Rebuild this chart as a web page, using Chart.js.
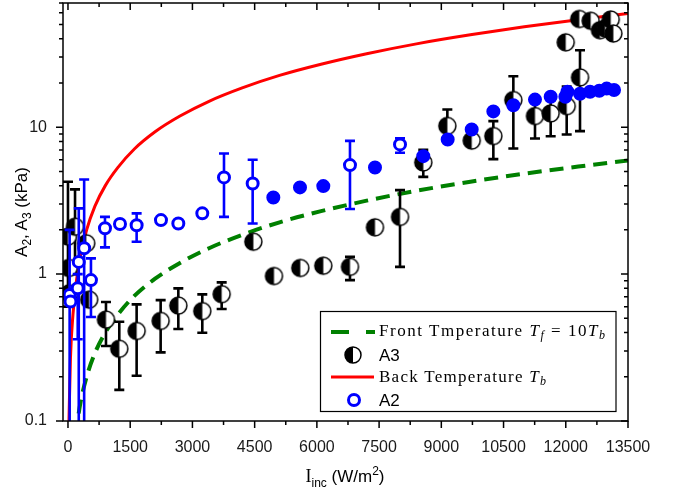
<!DOCTYPE html>
<html>
<head>
<meta charset="utf-8">
<script src="https://cdn.jsdelivr.net/npm/chart.js@4.4.1/dist/chart.umd.min.js"></script>
<style>
body{margin:0;background:#fff;}
#wrap{position:relative;width:681px;height:496px;}
#chart1{position:absolute;left:0;top:0;}
#over{position:absolute;left:0;top:0;}
</style>
</head>
<body>
<div id="wrap">
<canvas id="chart1" width="681" height="496"></canvas>
<svg id="over" width="681" height="496" font-family="Liberation Sans, Arial, sans-serif">
  <!-- axis titles -->
  <text transform="translate(27,212) rotate(-90)" text-anchor="middle" font-size="17">A<tspan font-size="12" dy="4">2</tspan><tspan dy="-4">, A</tspan><tspan font-size="12" dy="4">3</tspan><tspan dy="-4"> (kPa)</tspan></text>
  <text x="345" y="482" text-anchor="middle" font-size="17"><tspan font-family="Liberation Serif, serif" font-size="18">I</tspan><tspan font-size="12" dy="5">inc</tspan><tspan dy="-5"> (W/m</tspan><tspan font-size="12" dy="-7">2</tspan><tspan dy="7">)</tspan></text>
  <!-- legend -->
  <rect x="320.5" y="311.5" width="295.5" height="100" fill="#fff" stroke="#000" stroke-width="1.2"/>
  <line x1="331" y1="332" x2="349" y2="332" stroke="#008000" stroke-width="4"/>
  <line x1="366" y1="332" x2="375" y2="332" stroke="#008000" stroke-width="4"/>
  <text x="379" y="335.5" font-family="Liberation Serif, serif" font-size="17" textLength="226" lengthAdjust="spacing">Front Tmperature <tspan font-style="italic">T</tspan><tspan font-style="italic" font-size="12" dy="3">f</tspan><tspan dy="-3"> = 10</tspan><tspan font-style="italic">T</tspan><tspan font-style="italic" font-size="12" dy="3">b</tspan></text>
  <circle cx="353" cy="355" r="8" fill="#fff" stroke="#000" stroke-width="1.5"/>
  <path d="M353,347 A8,8 0 0,0 353,363 Z" fill="#000"/>
  <text x="379" y="361" font-size="17">A3</text>
  <line x1="331" y1="377" x2="374" y2="377" stroke="#ff0000" stroke-width="3"/>
  <text x="379" y="381.5" font-family="Liberation Serif, serif" font-size="17" textLength="167" lengthAdjust="spacing">Back Temperature <tspan font-style="italic">T</tspan><tspan font-style="italic" font-size="12" dy="3">b</tspan></text>
  <circle cx="354" cy="400" r="5.5" fill="#fff" stroke="#0000ff" stroke-width="3"/>
  <text x="379" y="406" font-size="17">A2</text>
</svg>
</div>
<script>
"use strict"

// axis ranges and ticks
const xMin = -120, xMax = 13500
const yMin = 0.1, yMax = 70
const xTicks = [0, 1500, 3000, 4500, 6000, 7500, 9000, 10500, 12000, 13500]
const xMinorTicks = [750, 2250, 3750, 5250, 6750, 8250, 9750, 11250, 12750]
const yTicks = [0.1, 1, 10]
const yTickLabels = ['0.1', '1', '10']
const yMinorTicks = [0.2, 0.3, 0.4, 0.5, 0.6, 0.7, 0.8, 0.9, 2, 3, 4, 5, 6, 7, 8, 9, 20, 30, 40, 50, 60, 70]

// back temperature (red) and front temperature (green dashed)
const backX = [20, 60, 120, 200, 300, 450, 650, 900, 1200, 1600, 2100, 2700, 3400, 4200, 5100, 6100, 7200, 8400, 9700, 11000, 12300, 13500]
const backY = [0.09, 0.27, 0.53, 0.88, 1.33, 2.0, 2.9, 4.0, 5.3, 7.1, 9.3, 11.9, 15.0, 18.5, 22.5, 26.8, 31.6, 36.9, 42.5, 48.2, 53.9, 59.3]
const frontX = [180, 230, 300, 450, 650, 900, 1200, 1600, 2100, 2700, 3400, 4200, 5100, 6100, 7200, 8400, 9700, 11000, 12300, 13500]
const frontY = [0.08, 0.1, 0.133, 0.2, 0.29, 0.4, 0.53, 0.71, 0.93, 1.19, 1.5, 1.85, 2.25, 2.68, 3.16, 3.69, 4.25, 4.82, 5.39, 5.93]

// A3 (black half discs) with error bars
const a3X = [0, 20, 30, 170, 440, 510, 916, 1237, 1655, 2234, 2660, 3238, 3705, 4468, 4966, 5600, 6155, 6798, 7401, 8004, 8565, 9145, 9732, 10254, 10736, 11258, 11636, 12022, 11998, 12343, 12326, 12600, 12825, 12950, 13083, 13146]
const a3Y = [1.8, 1.1, 0.74, 2.1, 1.62, 0.67, 0.49, 0.31, 0.41, 0.48, 0.61, 0.56, 0.73, 1.66, 0.97, 1.1, 1.14, 1.12, 2.08, 2.45, 5.75, 10.2, 8.1, 8.7, 15.3, 11.9, 12.4, 13.9, 37.8, 21.8, 54.5, 53, 45.7, 47, 54, 43.4]
const a3Low = [0.6, null, null, 1.0, null, null, 0.324, 0.163, 0.203, 0.293, 0.423, 0.399, 0.578, null, null, null, null, 0.91, null, 1.12, 4.59, 8.0, null, 6.06, 7.16, 8.38, 8.68, 8.92, null, 9.4, null, null, null, null, null, null]
const a3High = [4.25, null, null, 3.77, null, null, 0.645, 0.474, 0.622, 0.665, 0.799, 0.727, 0.878, null, null, null, null, 1.31, null, 3.73, 7.0, 13.2, null, 11.0, 22.2, 15.4, 16.1, 18.9, null, 33.4, null, null, null, null, null, null]

// A2 (blue circles) with error bars
const a2X = [40, 60, 235, 260, 390, 554, 892, 1254, 1655, 2242, 2660, 3238, 3761, 4452, 4950, 5593, 6155, 6798, 7401, 8004, 8565, 9153, 9732, 10254, 10736, 11258, 11636, 11990, 12040, 12343, 12585, 12808, 12986, 13163]
const a2Y = [0.72, 0.65, 0.8, 1.21, 1.5, 0.91, 2.05, 2.19, 2.15, 2.33, 2.21, 2.59, 4.55, 4.14, 3.32, 3.89, 3.97, 5.52, 5.32, 7.63, 6.35, 8.24, 9.64, 12.8, 14.1, 15.4, 16.1, 16.1, 17.4, 16.9, 17.4, 17.7, 18.3, 17.9]
const a2Low = [0.05, null, 0.36, 0.05, 0.05, 0.51, 1.52, null, 1.66, null, null, null, 2.45, 2.21, null, null, null, 2.77, null, 6.7, null, null, null, null, null, null, null, null, null, null, null, null, null, null]
const a2High = [2.0, null, 1.0, 2.8, 4.4, 1.28, 2.45, null, 2.59, null, null, null, 6.62, 6.0, null, null, null, 8.07, null, 8.4, null, null, null, null, null, null, null, null, null, null, null, null, null, null]
const a2Solid = [false, false, false, false, false, false, false, false, false, false, false, false, false, false, true, true, true, false, true, false, true, true, true, true, true, true, true, true, true, true, true, true, true, true]

const toPts = (xs, ys) => xs.map((x, i) => ({x: x, y: ys[i]}))

// half black / half white disc for A3
function halfDisc(r){
    const c = document.createElement('canvas')
    const s = Math.ceil(2 * r + 4)
    c.width = s; c.height = s
    const g = c.getContext('2d')
    const m = s / 2
    g.beginPath(); g.arc(m, m, r, 0, 2 * Math.PI); g.fillStyle = '#fff'; g.fill()
    g.beginPath(); g.arc(m, m, r, Math.PI / 2, Math.PI * 1.5); g.closePath(); g.fillStyle = '#000'; g.fill()
    g.beginPath(); g.arc(m, m, r, 0, 2 * Math.PI); g.lineWidth = 1.5; g.strokeStyle = '#000'; g.stroke()
    return c
}

// error bars drawn just before their dataset
const errBars = {
    id: 'errBars',
    beforeDatasetDraw(chart, args){
        const ds = chart.data.datasets[args.index]
        if (!ds.errLow) return
        const ctx = chart.ctx, xs = chart.scales.x, ys = chart.scales.y, a = chart.chartArea
        ctx.save()
        ctx.beginPath(); ctx.rect(a.left, a.top, a.right - a.left, a.bottom - a.top); ctx.clip()
        ctx.strokeStyle = ds.errColor
        ctx.lineWidth = 2.6
        ds.data.forEach((p, i) => {
            const lo = ds.errLow[i], hi = ds.errHigh[i]
            if (lo == null) return
            const px = xs.getPixelForValue(p.x)
            const y1 = ys.getPixelForValue(lo), y2 = ys.getPixelForValue(hi)
            ctx.beginPath()
            ctx.moveTo(px, y1); ctx.lineTo(px, y2)
            ctx.moveTo(px - 5, y1); ctx.lineTo(px + 5, y1)
            ctx.moveTo(px - 5, y2); ctx.lineTo(px + 5, y2)
            ctx.stroke()
        })
        ctx.restore()
    }
}

// frame and tick marks (outside on bottom/left, inside on top/right)
const frame = {
    id: 'frame',
    afterDraw(chart){
        const ctx = chart.ctx, xs = chart.scales.x, ys = chart.scales.y, a = chart.chartArea
        ctx.save()
        ctx.strokeStyle = '#000'
        ctx.lineWidth = 1.5
        ctx.strokeRect(a.left, a.top, a.right - a.left, a.bottom - a.top)
        ctx.beginPath()
        const tx = (v, len) => {
            const px = xs.getPixelForValue(v)
            ctx.moveTo(px, a.bottom); ctx.lineTo(px, a.bottom + len)
            ctx.moveTo(px, a.top); ctx.lineTo(px, a.top + len)
        }
        xTicks.forEach(v => tx(v, 7))
        xMinorTicks.forEach(v => tx(v, 4))
        const ty = (v, len) => {
            const py = ys.getPixelForValue(v)
            ctx.moveTo(a.left, py); ctx.lineTo(a.left - len, py)
            ctx.moveTo(a.right, py); ctx.lineTo(a.right - len, py)
        }
        yTicks.forEach(v => ty(v, 7))
        yMinorTicks.forEach(v => ty(v, 4))
        ctx.stroke()
        ctx.restore()
    }
}

const ctx = document.getElementById('chart1')
const tickFont = {family: 'Liberation Sans, Arial, sans-serif', size: 16}

new Chart(ctx, {
    type: 'scatter',
    data: {
        datasets: [
            {
                label: 'A2',
                data: toPts(a2X, a2Y),
                order: 0,
                pointStyle: 'circle',
                pointRadius: 5.5,
                pointBorderWidth: 3,
                pointBorderColor: '#0000ff',
                pointBackgroundColor: a2Solid.map(s => s ? '#0000ff' : '#ffffff'),
                errLow: a2Low, errHigh: a2High, errColor: '#0000ff'
            },
            {
                label: 'A3',
                data: toPts(a3X, a3Y),
                order: 1,
                pointStyle: halfDisc(8.5),
                pointRadius: 9,
                errLow: a3Low, errHigh: a3High, errColor: '#000'
            },
            {
                label: 'Back Temperature',
                data: toPts(backX, backY),
                order: 2,
                showLine: true,
                pointRadius: 0,
                borderColor: '#ff0000',
                borderWidth: 3,
                cubicInterpolationMode: 'monotone'
            },
            {
                label: 'Front Tmperature',
                data: toPts(frontX, frontY),
                order: 3,
                showLine: true,
                pointRadius: 0,
                borderColor: '#008000',
                borderWidth: 4,
                borderDash: [14, 8],
                cubicInterpolationMode: 'monotone'
            }
        ]
    },
    options: {
        responsive: false,
        animation: false,
        events: [],
        layout: {autoPadding: false, padding: {left: 0, right: 53, top: 3, bottom: 0}},
        plugins: {legend: {display: false}, tooltip: {enabled: false}},
        scales: {
            x: {
                type: 'linear',
                min: xMin, max: xMax,
                afterBuildTicks: s => { s.ticks = xTicks.map(v => ({value: v})) },
                afterFit: s => { s.height = 75; s.paddingLeft = 0; s.paddingRight = 0 },
                grid: {display: false},
                border: {display: false},
                ticks: {font: tickFont, color: '#1a1a1a', padding: 9, maxRotation: 0, autoSkip: false,
                        callback: v => String(v)}
            },
            y: {
                type: 'logarithmic',
                min: yMin, max: yMax,
                afterBuildTicks: s => { s.ticks = yTicks.map(v => ({value: v})) },
                afterFit: s => { s.width = 63; s.paddingTop = 0; s.paddingBottom = 0 },
                grid: {display: false},
                border: {display: false},
                ticks: {font: tickFont, color: '#1a1a1a', padding: 8,
                        callback: (v) => yTickLabels[yTicks.indexOf(v)] ?? ''}
            }
        }
    },
    plugins: [errBars, frame]
})
</script>
</body>
</html>
